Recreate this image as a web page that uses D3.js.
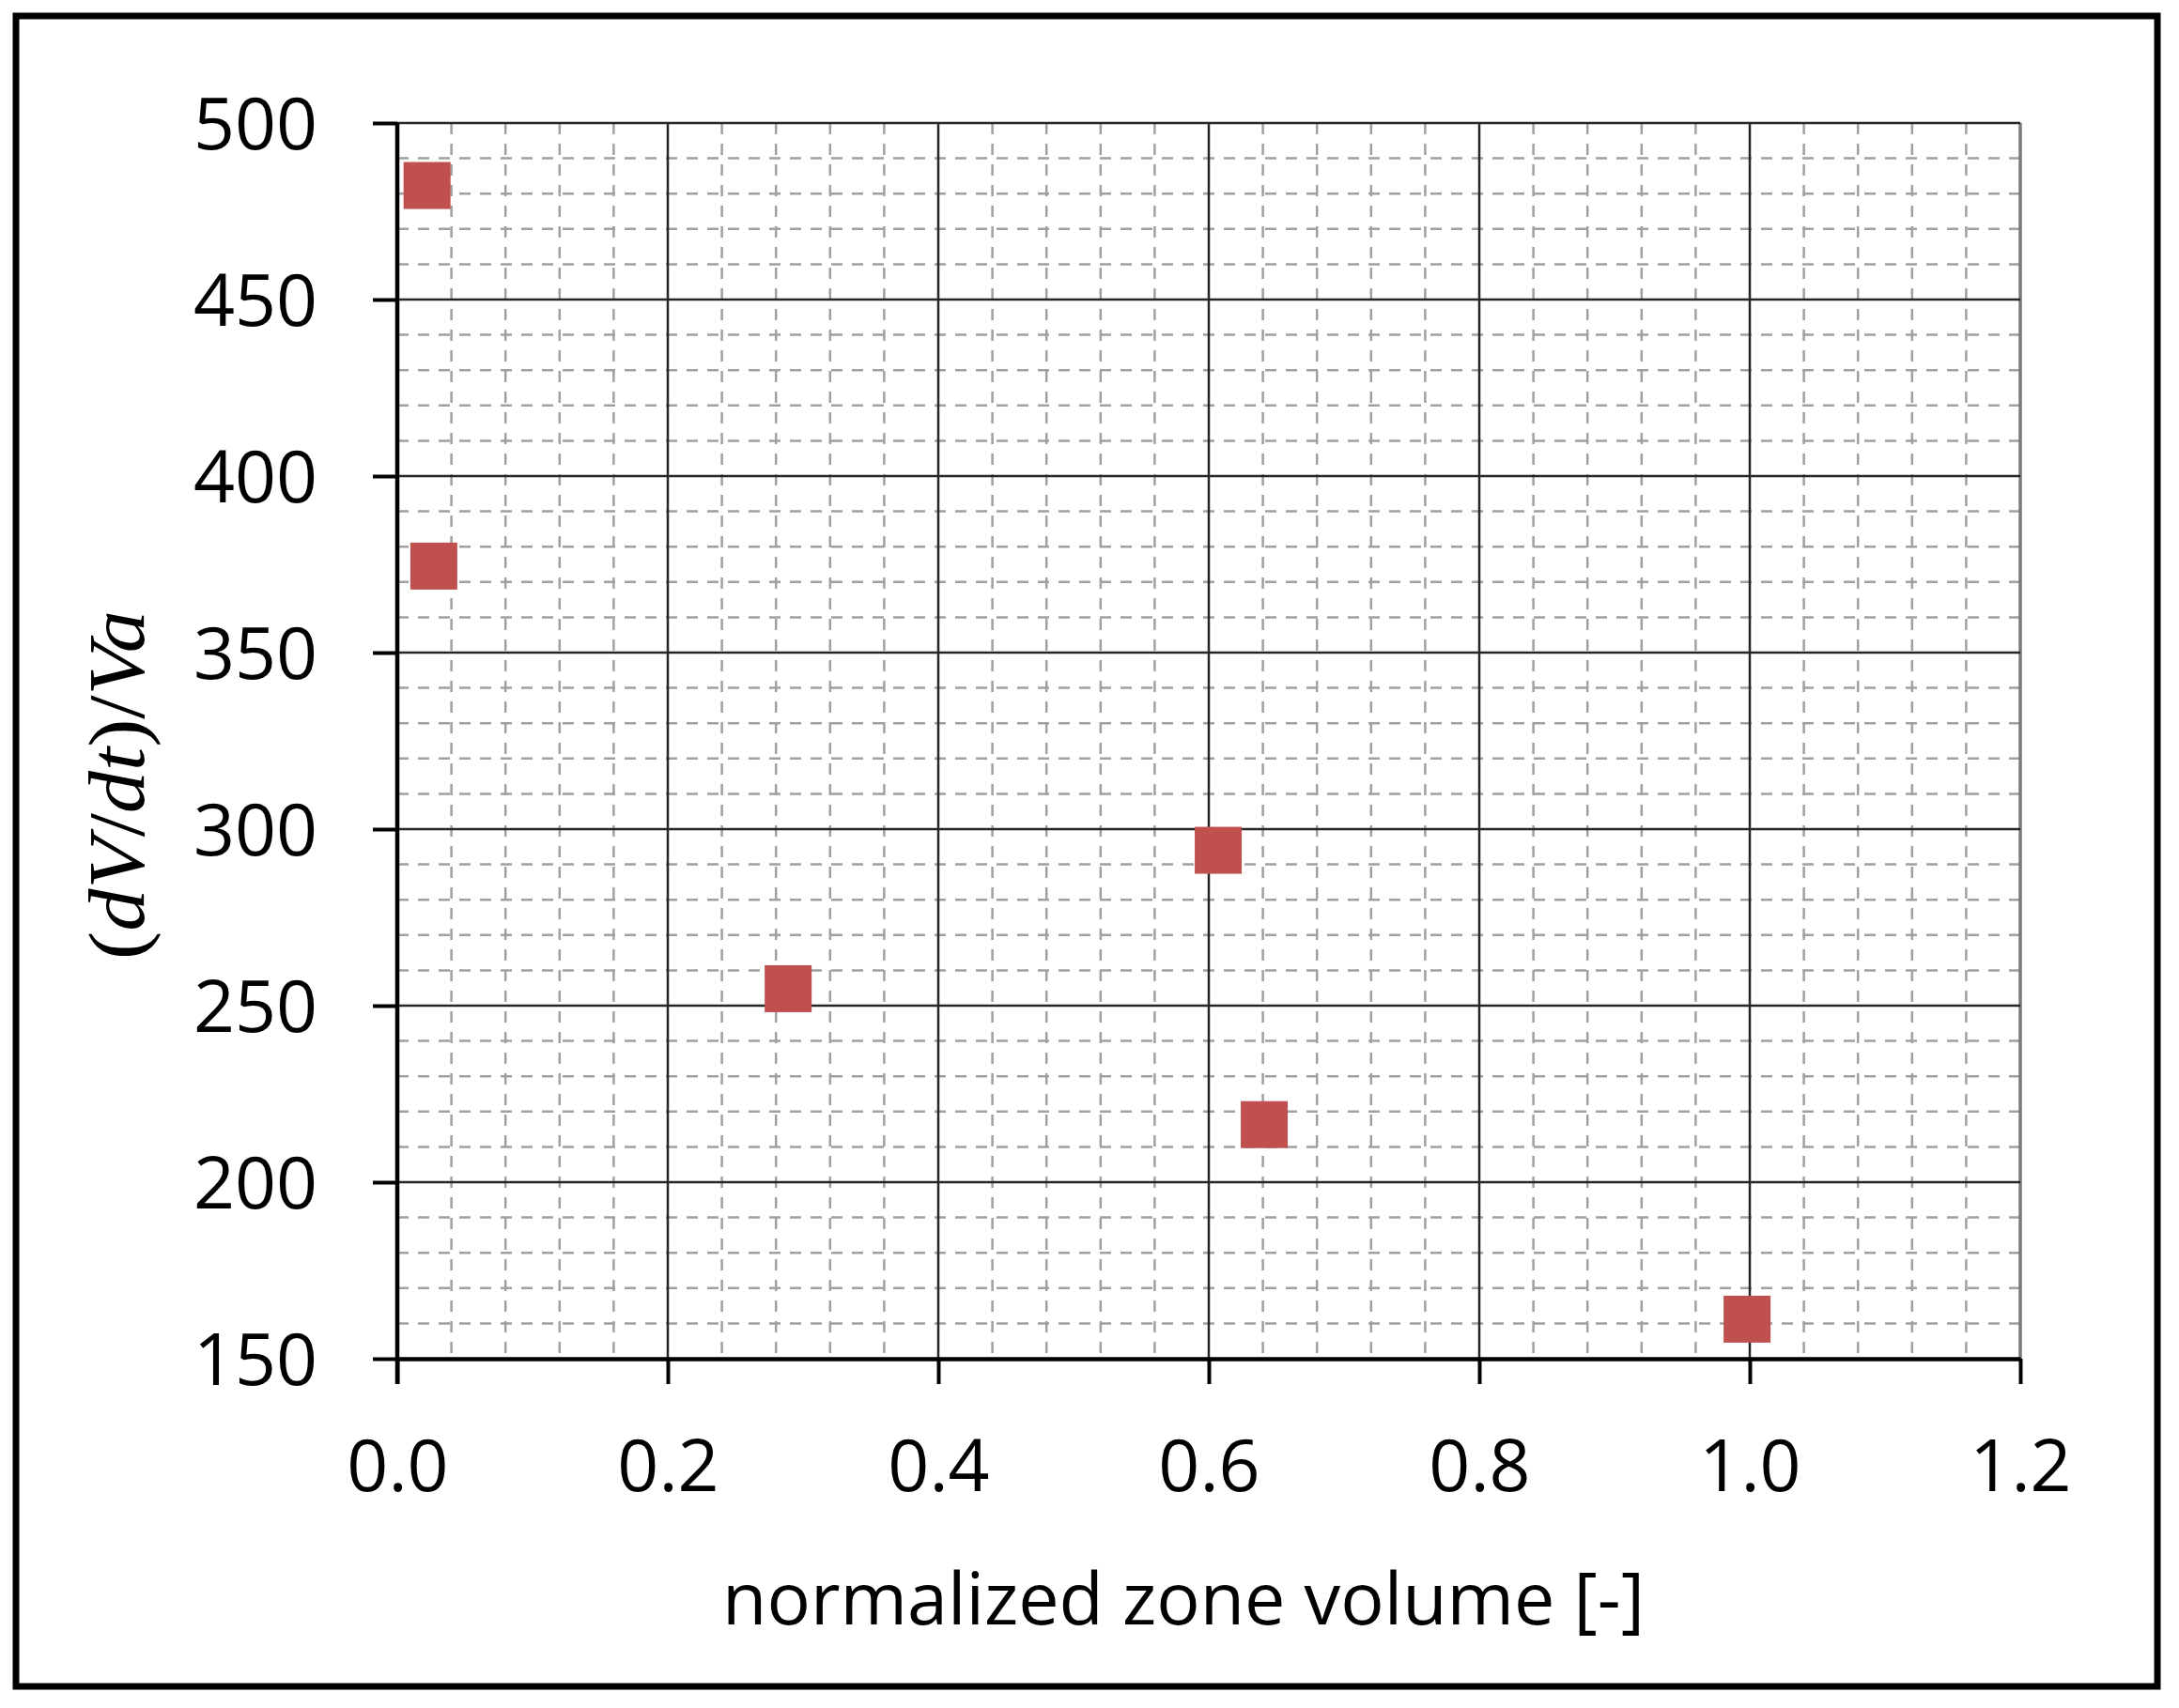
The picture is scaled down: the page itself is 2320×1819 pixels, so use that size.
<!DOCTYPE html>
<html lang="en">
<head>
  <meta charset="UTF-8">
  <title>Zone volume scatter</title>
  <style>
    body {
      margin: 0;
      background: #fff;
      overflow: hidden;
    }
    .tick text {
      font-family: "Open Sans", sans-serif;
      font-size: 77px;
      fill: #000;
    }
    .minor {
      stroke: #a0a0a0;
      stroke-width: 2.5;
      stroke-dasharray: 12 10;
    }
    .major {
      stroke: #262626;
      stroke-width: 2.5;
    }
  </style>
</head>
<body>
<div id="chart"></div>

<script src="https://d3js.org/d3.v7.min.js"></script>
<script>
// values
const zoneVolume = [0.022, 0.027, 0.289, 0.607, 0.641, 0.998];
const rate = [482.3, 374.5, 254.8, 294.0, 216.3, 161.2];

const xTickValues = [0, 0.2, 0.4, 0.6, 0.8, 1.0, 1.2];
const yTickValues = [150, 200, 250, 300, 350, 400, 450, 500];
const xTitle = "normalized zone volume [-]";

const width = 2320;
const height = 1819;
const plotLeft = 423, plotRight = 2151, plotTop = 131, plotBottom = 1447;

const svg = d3.select('#chart')
    .append('svg')
    .attr('width', width)
    .attr('height', height);

const x = d3.scaleLinear().domain([0, 1.2]).range([plotLeft, plotRight]);
const y = d3.scaleLinear().domain([150, 500]).range([plotBottom, plotTop]);

// minor grid, every 0.04 and every 10
const xMinor = d3.range(0, 1.2001, 0.04).filter((d, i) => i % 5 !== 0);
const yMinor = d3.range(150, 500.01, 10).filter((d, i) => i % 5 !== 0);

const grid = svg.append('g');
grid.selectAll('.minor-x')
    .data(xMinor)
    .enter().append('line')
    .attr('class', 'minor')
    .attr('x1', d => x(d)).attr('x2', d => x(d))
    .attr('y1', plotTop).attr('y2', plotBottom);

grid.selectAll('.minor-y')
    .data(yMinor)
    .enter().append('line')
    .attr('class', 'minor')
    .attr('x1', plotLeft).attr('x2', plotRight)
    .attr('y1', d => y(d)).attr('y2', d => y(d));

// major grid
grid.selectAll('.major-x')
    .data(xTickValues.slice(1))
    .enter().append('line')
    .attr('class', 'major')
    .attr('x1', d => x(d)).attr('x2', d => x(d))
    .attr('y1', plotTop).attr('y2', plotBottom)
    .style('stroke', d => d === 1.2 ? '#7a7a7a' : null)
    .style('stroke-width', d => d === 1.2 ? 3.5 : null);

grid.selectAll('.major-y')
    .data(yTickValues.slice(1))
    .enter().append('line')
    .attr('class', 'major')
    .attr('x1', plotLeft).attr('x2', plotRight)
    .attr('y1', d => y(d)).attr('y2', d => y(d));

// axes
const xAxis = d3.axisBottom(x)
    .tickValues(xTickValues)
    .tickSize(27)
    .tickSizeOuter(0)
    .tickPadding(86)
    .tickFormat(d3.format('.1f'));

const yAxis = d3.axisLeft(y)
    .tickValues(yTickValues)
    .tickSize(26)
    .tickSizeOuter(0)
    .tickPadding(59)
    .tickFormat(d3.format('d'));

const gx = svg.append('g')
    .attr('transform', `translate(0,${plotBottom})`)
    .call(xAxis);
gx.select('.domain').attr('stroke', '#000').attr('stroke-width', 4.5);
gx.selectAll('.tick line').attr('stroke', '#000').attr('stroke-width', 4);
gx.selectAll('.tick text').attr('dy', null).attr('y', 141);

const gy = svg.append('g')
    .attr('transform', `translate(${plotLeft},0)`)
    .call(yAxis);
gy.select('.domain').attr('stroke', '#000').attr('stroke-width', 4.5)
    .attr('d', `M0,${plotBottom + 27}V${plotTop}`);
gy.selectAll('.tick line').attr('stroke', '#000').attr('stroke-width', 4);
gy.selectAll('.tick text').attr('dy', '0.36em');

// markers
const size = 50;
svg.append('g')
    .selectAll('rect')
    .data(zoneVolume.map((v, i) => [v, rate[i]]))
    .enter().append('rect')
    .attr('x', d => x(d[0]) - size / 2)
    .attr('y', d => y(d[1]) - size / 2)
    .attr('width', size)
    .attr('height', size)
    .attr('fill', '#c0504d');

// axis titles
svg.append('text')
    .attr('x', 1260)
    .attr('y', 1730)
    .attr('text-anchor', 'middle')
    .attr('textLength', 982)
    .attr('lengthAdjust', 'spacingAndGlyphs')
    .style('font-family', '"Open Sans", sans-serif')
    .style('font-size', '76px')
    .text(xTitle);

const yTitle = svg.append('text')
    .attr('transform', 'translate(153,836) rotate(-90)')
    .attr('text-anchor', 'middle')
    .attr('textLength', 372)
    .attr('lengthAdjust', 'spacingAndGlyphs')
    .style('font-family', '"Liberation Serif", serif')
    .style('font-size', '84px');
[['(', false], ['dV', true], ['/', false], ['dt', true], [')/', false], ['Va', true]]
    .forEach(p => {
        yTitle.append('tspan')
            .style('font-style', p[1] ? 'italic' : 'normal')
            .text(p[0]);
    });

// outer frame
svg.append('rect')
    .attr('x', 17).attr('y', 17)
    .attr('width', 2280).attr('height', 1779)
    .attr('fill', 'none')
    .attr('stroke', '#000')
    .attr('stroke-width', 7);
</script>
</body>
</html>
